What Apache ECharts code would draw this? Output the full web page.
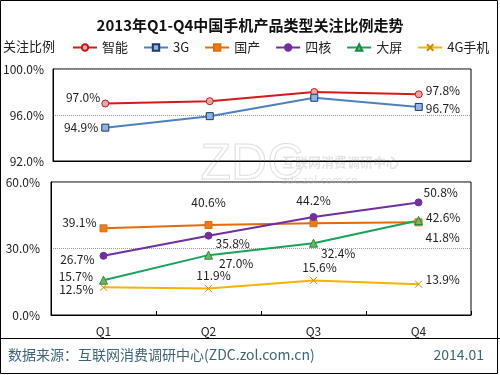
<!DOCTYPE html>
<html>
<head>
<meta charset="utf-8">
<title>2013年Q1-Q4中国手机产品类型关注比例走势</title>
<script src="https://cdn.jsdelivr.net/npm/echarts@6/dist/echarts.min.js"></script>
<style>
html,body{margin:0;padding:0;background:#fff;}
#main{width:500px;height:375px;}
</style>
</head>
<body>
<div id="main"></div>
<script>
// 数据
var quarters = ['Q1', 'Q2', 'Q3', 'Q4'];
var smart = [97.0, 97.2, 98.0, 97.8];     // 智能
var g3 = [94.9, 95.9, 97.5, 96.7];        // 3G
var domestic = [39.1, 40.6, 41.4, 41.8];  // 国产
var quad = [26.7, 35.8, 44.2, 50.8];      // 四核
var bigScreen = [15.7, 27.0, 32.4, 42.6]; // 大屏
var g4 = [12.5, 11.9, 15.6, 13.9];        // 4G手机
var upperTicks = [92, 96, 100];
var lowerTicks = [0, 30, 60];

var font = 'Noto Sans CJK SC';

// 每个点的标签位置（null = 不显示）
var labelCfg = {
	smart: [['left', [2, -6]], null, null, ['right', [0, -4]]],
	g3: [['left', [0, 0]], null, null, ['right', [0, 1]]],
	domestic: [['left', [0, -6]], ['top', [0, -10]], null, ['right', [0, 15]]],
	quad: [['left', [-2, 4]], ['right', [0, 8]], ['top', [0, -4]], ['right', [-2, -10]]],
	bigScreen: [['left', [-3, -4]], ['right', [3, 8]], ['right', [0, 10]], ['right', [0, -3]]],
	g4: [['left', [-3, 2]], ['top', [5, 0]], ['top', [6, 0]], ['right', [0, -5]]]
};

function buildData(values, cfg){
	return values.map(function(v, i){
		var c = cfg[i];
		if(!c){
			return {value: v, label: {show: false}};
		}
		return {value: v, label: {show: true, position: c[0], offset: c[1], distance: 3}};
	});
}

function makeSeries(name, values, cfg, color, symbol, symbolColor, borderColor, axisIdx){
	return {
		name: name,
		type: 'line',
		xAxisIndex: axisIdx,
		yAxisIndex: axisIdx,
		data: buildData(values, cfg),
		symbol: symbol,
		symbolSize: symbol === 'triangle' ? 8 : 7,
		lineStyle: {color: color, width: 2},
		itemStyle: {color: symbolColor, borderColor: borderColor, borderWidth: 1},
		label: {
			color: '#222',
			fontFamily: font,
			fontSize: 12,
			formatter: function(p){ return p.value.toFixed(1) + '%'; }
		},
		emphasis: {disabled: true},
		animation: false
	};
}

var chart = echarts.init(document.getElementById('main'));

var option = {
	backgroundColor: '#fff',
	title: {
		text: '2013年Q1-Q4中国手机产品类型关注比例走势',
		left: 'center',
		top: 13,
		textStyle: {fontFamily: font, fontSize: 15, fontWeight: 'bold', color: '#111'}
	},
	legend: {
		left: 72,
		top: 41,
		width: 428,
		padding: 0,
		itemWidth: 24,
		itemHeight: 8,
		itemGap: 15,
		textStyle: {fontFamily: font, fontSize: 13, color: '#222'},
		data: ['智能', '3G', '国产', '四核', '大屏', '4G手机']
	},
	grid: [
		{left: 51, right: 29, top: 69, height: 92, show: true, borderColor: '#000', borderWidth: 1},
		{left: 51, right: 29, top: 182, height: 133, show: true, borderColor: '#000', borderWidth: 1}
	],
	xAxis: [
		{
			type: 'category', gridIndex: 0, data: quarters,
			axisLine: {lineStyle: {color: '#000'}},
			axisTick: {show: false}, axisLabel: {show: false}
		},
		{
			type: 'category', gridIndex: 1, data: quarters,
			axisLine: {lineStyle: {color: '#000'}},
			axisTick: {show: true, inside: true, length: 4, interval: 0, lineStyle: {color: '#000'}},
			axisLabel: {fontFamily: font, fontSize: 12, color: '#222', margin: 10}
		}
	],
	yAxis: [
		{
			type: 'value', gridIndex: 0, min: 92, max: 100, interval: 4,
			axisLine: {show: true, lineStyle: {color: '#000'}},
			axisTick: {show: false},
			splitLine: {show: true, lineStyle: {color: '#999', type: 'dotted'}},
			axisLabel: {fontFamily: font, fontSize: 12, color: '#222', margin: 9,
				formatter: function(v){ return v.toFixed(1) + '%'; }}
		},
		{
			type: 'value', gridIndex: 1, min: 0, max: 60, interval: 30,
			axisLine: {show: true, lineStyle: {color: '#000'}},
			axisTick: {show: false},
			splitLine: {show: true, lineStyle: {color: '#999', type: 'dotted'}},
			axisLabel: {fontFamily: font, fontSize: 12, color: '#222', margin: 11,
				formatter: function(v){ return v.toFixed(1) + '%'; }}
		}
	],
	graphic: [
		// 水印
		{type: 'text', left: 200, top: 140, silent: true, z: 0,
			style: {text: 'ZDC', font: '50px "Liberation Sans"', fill: 'rgba(255,255,255,0)', stroke: 'rgba(190,190,190,0.5)', lineWidth: 1}},
		{type: 'text', left: 282, top: 156, silent: true, z: 0,
			style: {text: '互联网消费调研中心', font: 'bold 13px "Noto Sans CJK SC"', fill: 'rgba(190,190,190,0.45)'}},
		{type: 'text', left: 282, top: 174, silent: true, z: 0,
			style: {text: 'zdc.zol.com.cn', font: '11px "Noto Sans CJK SC"', fill: 'rgba(190,190,190,0.45)'}},
		{type: 'text', left: 3, top: 40,
			style: {text: '关注比例', font: '13px "Noto Sans CJK SC"', fill: '#222'}},
		{type: 'line', shape: {x1: 0, y1: 338.5, x2: 500, y2: 338.5}, style: {stroke: '#000', lineWidth: 1}},
		{type: 'text', left: 8, top: 348,
			style: {text: '数据来源：互联网消费调研中心(ZDC.zol.com.cn)', font: '14px "Noto Sans CJK SC"', fill: '#3d6578'}},
		{type: 'text', right: 16, top: 348,
			style: {text: '2014.01', font: '14px "Noto Sans CJK SC"', fill: '#3d6578'}},
		{type: 'rect', shape: {x: 0.5, y: 0.5, width: 497, height: 373},
			style: {fill: 'none', stroke: '#000', lineWidth: 1}, silent: true}
	],
	series: [
		makeSeries('智能', smart, labelCfg.smart, '#d7191c', 'circle', '#f0a6a6', '#c0171a', 0),
		makeSeries('3G', g3, labelCfg.g3, '#4f81bd', 'rect', '#8db4e2', '#1f3864', 0),
		makeSeries('国产', domestic, labelCfg.domestic, '#e36c0a', 'rect', '#f07a1a', '#e36c0a', 1),
		makeSeries('四核', quad, labelCfg.quad, '#7030a0', 'circle', '#7030a0', '#7030a0', 1),
		makeSeries('大屏', bigScreen, labelCfg.bigScreen, '#1aa35a', 'triangle', '#72b84e', '#1a8a4a', 1),
		makeSeries('4G手机', g4, labelCfg.g4, '#f5b400', 'path://M0,0L10,10M10,0L0,10', '#e8a000', '#d08a00', 1)
	]
};

chart.setOption(option);
</script>
</body>
</html>
